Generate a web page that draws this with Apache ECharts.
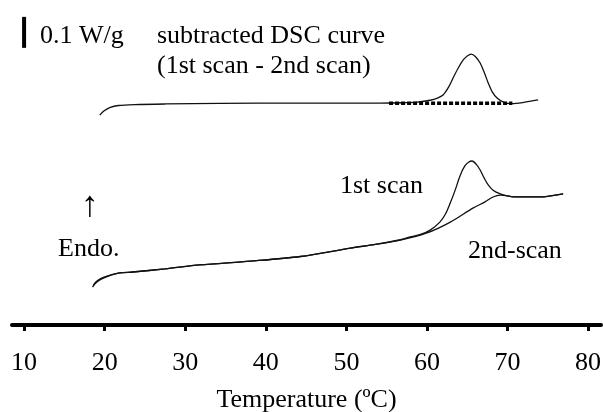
<!DOCTYPE html>
<html>
<head>
<meta charset="utf-8">
<script src="https://cdn.jsdelivr.net/npm/echarts@6/dist/echarts.min.js"></script>
<style>
  html, body { margin: 0; padding: 0; background: #fff; }
  #chart { width: 603px; height: 412px; }
</style>
</head>
<body>
<div id="chart"></div>
<script>
// temperature (°C) ticks
const tempTicks = [10, 20, 30, 40, 50, 60, 70, 80];

// heat flow (W/g, offset curves)
const subtracted = [
  [19.4, 0.677], [19.9, 0.690], [20.7, 0.702], [21.7, 0.708], [23.7, 0.711],
  [27.6, 0.713], [34.3, 0.715], [44.3, 0.716], [54.2, 0.716], [57.0, 0.717],
  [58.8, 0.719], [60.4, 0.725], [61.3, 0.732], [62.0, 0.742], [62.7, 0.768],
  [63.3, 0.800], [63.9, 0.830], [64.5, 0.855], [65.0, 0.868], [65.5, 0.874],
  [66.0, 0.866], [66.6, 0.845], [67.1, 0.815], [67.6, 0.781], [68.1, 0.752],
  [68.7, 0.732], [69.5, 0.719], [70.5, 0.714], [72.0, 0.718], [73.8, 0.726]
];
const baseline = [[55.3, 0.715], [70.6, 0.715]];

const scan2 = [
  [18.6, 0.129], [18.9, 0.139], [19.4, 0.148], [20.1, 0.156], [20.7, 0.161],
  [21.9, 0.168], [23.5, 0.171], [27.5, 0.181], [31.8, 0.194], [38.1, 0.206],
  [44.3, 0.221], [50.5, 0.248], [53.6, 0.260], [56.7, 0.274], [60.0, 0.297],
  [62.9, 0.332], [65.7, 0.377], [67.2, 0.397], [68.2, 0.413], [69.1, 0.419],
  [71.2, 0.413], [74.0, 0.413], [76.9, 0.423]
];
const scan1 = [
  [18.5, 0.122], [18.8, 0.133], [19.3, 0.144], [20.0, 0.153], [20.7, 0.160],
  [21.9, 0.168], [23.5, 0.171], [27.5, 0.181], [31.8, 0.194], [38.1, 0.206],
  [44.3, 0.221], [50.5, 0.248], [53.6, 0.260], [56.7, 0.275], [57.9, 0.284],
  [59.2, 0.292], [60.4, 0.306], [61.6, 0.332], [62.3, 0.358], [62.9, 0.394],
  [63.5, 0.435], [64.1, 0.481], [64.7, 0.513], [65.2, 0.526], [65.6, 0.529],
  [66.1, 0.519], [66.6, 0.500], [67.1, 0.474], [67.6, 0.452], [68.2, 0.435],
  [69.1, 0.423], [70.1, 0.416], [71.2, 0.413], [74.0, 0.413], [76.9, 0.423]
];

// 0.1 W/g scale bar
const scaleBar = [[10, 0.894], [10, 0.994]];

const serif = '"Liberation Serif", "Times New Roman", serif';

function label(text, x, y, size) {
  return {
    type: "text", x, y,
    style: { text, fill: "#000", font: size + "px " + serif, align: "left", verticalAlign: "middle" }
  };
}

const chart = echarts.init(document.getElementById("chart"));

const curve = { type: "line", showSymbol: false, smooth: 0.3, lineStyle: { color: "#111", width: 1.3 } };

chart.setOption({
  animation: false,
  grid: { left: 12, right: 2, top: 15, bottom: 87, outerBoundsMode: "none" },
  xAxis: {
    type: "value",
    min: 8.5,
    max: 81.6,
    name: "Temperature (ºC)",
    nameLocation: "middle",
    nameGap: 62,
    nameTextStyle: { fontFamily: serif, fontSize: 26, color: "#000" },
    axisLine: { lineStyle: { color: "#000", width: 4 } },
    axisTick: { customValues: tempTicks, length: 6, lineStyle: { color: "#000", width: 3 } },
    axisLabel: { customValues: tempTicks, margin: 25, fontFamily: serif, fontSize: 26, color: "#000" },
    splitLine: { show: false }
  },
  yAxis: { type: "value", min: 0, max: 1, show: false },
  series: [
    Object.assign({}, curve, { name: "subtracted", data: subtracted }),
    { type: "line", showSymbol: false, data: baseline, lineStyle: { color: "#000", width: 3.5, type: [4, 2] } },
    Object.assign({}, curve, { name: "2nd scan", data: scan2 }),
    Object.assign({}, curve, { name: "1st scan", data: scan1 }),
    { type: "line", showSymbol: false, clip: false, data: scaleBar, lineStyle: { color: "#000", width: 4 } }
  ],
  graphic: [
    label("0.1 W/g", 40, 36, 26),
    label("subtracted DSC curve", 157, 36, 26),
    label("(1st scan - 2nd scan)", 157, 66, 26),
    label("1st scan", 340, 186, 26),
    label("2nd-scan", 468, 251, 26),
    label("Endo.", 58, 249, 26),
    label("↑", 81, 207, 36)
  ]
});
</script>
</body>
</html>
